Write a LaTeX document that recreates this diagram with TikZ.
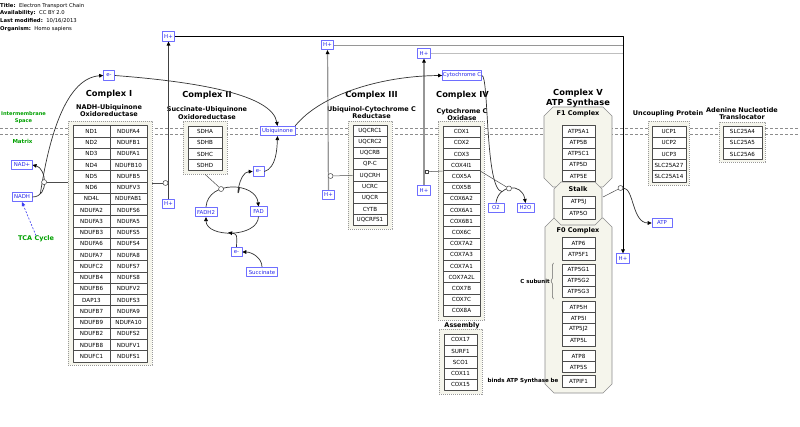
\documentclass[tikz,border=0pt]{standalone}
\usepackage{fontspec}
\setmainfont{DejaVu Sans}
\usetikzlibrary{arrows.meta,decorations.pathreplacing}
\definecolor{boxbg}{RGB}{245,245,236}
\definecolor{metblue}{RGB}{110,110,255}
\definecolor{mettext}{RGB}{40,40,235}
\definecolor{labgreen}{RGB}{0,160,0}
\definecolor{tcablue}{RGB}{60,60,240}
\definecolor{hgray}{RGB}{150,150,150}
\begin{document}
\begin{tikzpicture}[x=1pt, y=-1pt, >={Triangle[length=4pt,width=3.6pt,color=black]}, line join=round,
	cell/.style={draw=black!70, fill=white, line width=0.6pt, minimum height=11.2pt, inner sep=0pt, font=\fontsize{5.6}{6.5}\selectfont},
	grp/.style={draw=black!40, fill=boxbg, line width=0.5pt, dash pattern=on 1.2pt off 0.8pt, inner sep=0pt},
	vbox/.style={draw=black!45, fill=boxbg, line width=0.6pt},
	metab/.style={draw=metblue, fill=white, text=mettext, line width=0.6pt, inner xsep=2pt, inner ysep=0pt, minimum height=9.5pt, font=\fontsize{5.4}{6}\selectfont},
	anc/.style={circle, draw=black!75, fill=white, line width=0.5pt, inner sep=0pt, minimum size=5pt},
	ancsq/.style={rectangle, draw=black!75, fill=white, line width=0.5pt, inner sep=0pt, minimum size=3.5pt},
	conv/.style={draw=black!80, line width=0.7pt},
	cat/.style={draw=black!70, line width=0.5pt},
	hpath/.style={draw=hgray, line width=1.2pt},
	tcaarr/.style={draw=tcablue, line width=0.6pt, dash pattern=on 2pt off 1.5pt, -{Triangle[length=4pt,width=3.6pt,color=tcablue]}},
	cxtitle/.style={font=\bfseries\fontsize{8.3}{10}\selectfont, align=center, inner sep=0pt},
	cxsub/.style={font=\bfseries\fontsize{6.5}{7.3}\selectfont, align=center, inner sep=0pt},
	lbl/.style={font=\bfseries\fontsize{5.5}{6}\selectfont, inner sep=0pt},
	glbl/.style={font=\bfseries\fontsize{5.5}{6.7}\selectfont, text=labgreen, align=center, inner sep=0pt},
	hdr/.style={anchor=west, inner sep=0pt, font=\fontsize{5.3}{6}\selectfont}]
	\useasboundingbox (0,0) rectangle (800,427);
	\foreach \k/\v [count=\i] in {Title/Electron Transport Chain, Availability/CC BY 2.0, Last modified/{10/16/2013}, Organism/Homo sapiens}
		\node[hdr] (hd\i) at (0,{-1.97+7.67*\i}) {\textbf{\k:}\ \ \v};
	\foreach \y in {128,134}
		\draw[black!45, line width=0.5pt, dash pattern=on 3pt off 2pt] (0,\y) -- (800,\y);
	\node[glbl, font=\bfseries\fontsize{5.1}{6.7}\selectfont] (ims) at (23.5,117.5) {Intermembrane\\Space};
	\node[glbl] (mtx) at (22.5,141) {Matrix};
	\node[glbl, font=\bfseries\fontsize{6.5}{7}\selectfont] (tca) at (36,239) {TCA Cycle};
	\foreach \n/\cx/\cy/\w/\h in {gI/110/243/84/244, gII/205/147.5/44/53, gIII/370/175/44/108, gIV/461/220.5/46/199, gAs/460.5/361.5/43/65, gUCP/668.5/153/41/64, gANT/742/142/46/40}
		\node[grp, minimum width=\w*1pt, minimum height=\h*1pt] (\n) at (\cx,\cy) {};
	\foreach \xa/\ya/\xb/\yb/\c in {544/107/612/187/9, 545/218/612/393/9, 554/182/602/225/7}
		\draw[vbox] ({\xa},{\ya+\c}) -- ({\xa+\c},{\ya}) -- ({\xb-\c},{\ya}) -- ({\xb},{\ya+\c}) -- ({\xb},{\yb-\c}) -- ({\xb-\c},{\yb}) -- ({\xa+\c},{\yb}) -- ({\xa},{\yb-\c}) -- cycle;
	\foreach \l/\r [count=\i] in {ND1/NDUFA4, ND2/NDUFB1, ND3/NDUFA1, ND4/NDUFB10, ND5/NDUFB5, ND6/NDUFV3, ND4L/NDUFAB1, NDUFA2/NDUFS6, NDUFA3/NDUFA5, NDUFB3/NDUFS5, NDUFA6/NDUFS4, NDUFA7/NDUFA8, NDUFC2/NDUFS7, NDUFB4/NDUFS8, NDUFB6/NDUFV2, DAP13/NDUFS3, NDUFB7/NDUFA9, NDUFB9/NDUFA10, NDUFB2/NDUFS2, NDUFB8/NDUFV1, NDUFC1/NDUFS1}{
		\node[cell, minimum width=37pt, minimum height=11.25pt] (cI-a\i) at (91.5,{120.1+11.25*\i}) {\l};
		\node[cell, minimum width=37pt, minimum height=11.25pt] (cI-b\i) at (128.5,{120.1+11.25*\i}) {\r};
	}
	\foreach \n [count=\i] in {SDHA, SDHB, SDHC, SDHD}
		\node[cell, minimum width=34pt] (cII-\i) at (205,{120.4+11.2*\i}) {\n};
	\foreach \n [count=\i] in {UQCRC1, UQCRC2, UQCRB, QP-C, UQCRH, UCRC, UQCR, CYTB, UQCRFS1}
		\node[cell, minimum width=34pt] (cIII-\i) at (370,{119.4+11.2*\i}) {\n};
	\foreach \n [count=\i] in {COX1, COX2, COX3, COX4I1, COX5A, COX5B, COX6A2, COX6A1, COX6B1, COX6C, COX7A2, COX7A3, COX7A1, COX7A2L, COX7B, COX7C, COX8A}
		\node[cell, minimum width=37pt] (cIV-\i) at (461.5,{120.4+11.2*\i}) {\n};
	\foreach \n [count=\i] in {COX17, SURF1, SCO1, COX11, COX15}
		\node[cell, minimum width=33pt] (cAs-\i) at (460.5,{328.7+11.2*\i}) {\n};
	\foreach \n [count=\i] in {ATP5A1, ATP5B, ATP5C1, ATP5D, ATP5E}
		\node[cell, minimum width=33pt] (cF1-\i) at (578.5,{120.1+11.2*\i}) {\n};
	\foreach \n [count=\i] in {ATP5J, ATP5O}
		\node[cell, minimum width=33pt] (cSt-\i) at (578.5,{191.1+11.2*\i}) {\n};
	\foreach \n/\y [count=\i] in {ATP6/243.3, ATP5F1/254.4, ATP5G1/269.8, ATP5G2/280.8, ATP5G3/291.8, ATP5H/307.2, ATP5I/318.3, ATP5J2/329.4, ATP5L/340.5, ATP8/356.3, ATP5S/367, ATPIF1/381.3}
		\node[cell, minimum width=33pt] (cF0-\i) at (578.5,\y) {\n};
	\foreach \n [count=\i] in {UCP1, UCP2, UCP3, SLC25A27, SLC25A14}
		\node[cell, minimum width=34pt] (cU-\i) at (669,{120.4+11.2*\i}) {\n};
	\foreach \n [count=\i] in {SLC25A4, SLC25A5, SLC25A6}
		\node[cell, minimum width=39pt] (cA-\i) at (742.5,{120.4+11.2*\i}) {\n};
	\node[cxtitle] (tI) at (109,94.3) {Complex I};
	\node[cxtitle] (tII) at (207,95.7) {Complex II};
	\node[cxtitle] (tIII) at (371.5,95) {Complex III};
	\node[cxtitle] (tIV) at (462.5,95) {Complex IV};
	\node[cxtitle] (tV) at (578,98) {Complex V\\ATP Synthase};
	\node[cxsub] (sI) at (109,110.8) {NADH-Ubiquinone\\Oxidoreductase};
	\node[cxsub] (sII) at (207,113) {Succinate-Ubiquinone\\Oxidoreductase};
	\node[cxsub] (sIII) at (371.5,112.5) {Ubiquinol-Cytochrome C\\Reductase};
	\node[cxsub] (sIV) at (462,114.5) {Cytochrome C\\Oxidase};
	\node[cxsub] (sF1) at (578,114) {F1 Complex};
	\node[cxsub] (sSt) at (578,189) {Stalk};
	\node[cxsub] (sF0) at (578,231) {F0 Complex};
	\node[cxsub] (sAs) at (462,326) {Assembly};
	\node[cxsub] (sU) at (668,114) {Uncoupling Protein};
	\node[cxsub] (sA) at (742,113.5) {Adenine Nucleotide\\Translocator};
	\draw[black!60, line width=0.5pt, decorate, decoration={brace, amplitude=2.5pt}] (553.5,299) -- (553.5,263);
	\node[lbl, anchor=east] (csub) at (550,281) {C subunit};
	\node[lbl, anchor=west] (bnd) at (487.5,381) {binds ATP Synthase be};
	\foreach \n/\x/\y/\w/\t in {hI1/168.5/36.5/11/H+, hI2/168.5/204/11/H+, hIII1/327.5/45/11/H+, hIII2/328.5/195/11/H+, hIV1/424/53.5/11/H+, hIV2/424/190.5/11/H+, hV/623/258.5/11/H+, eI/109/75.5/11/e-, nadp/22/165/20/NAD+, nadh/22/197/20/NADH, ubq/277.5/131/11/Ubiquinone, eII1/258.5/171.5/11/e-, eII2/236.5/252/11/e-, fadh2/206/212/11/FADH2, fad/258.5/211.5/17/FAD, succ/262/272/11/Succinate, o2/496/208/16/O2, h2o/525.5/208/17/H2O, atp/662/223/20/ATP}
		\node[metab, minimum width=\w*1pt] (\n) at (\x,\y) {\t};
	\node[metab, inner xsep=0.5pt] (cytc) at (462,75.5) {Cytochrome C};
	\draw[hpath, black!75, line width=0.9pt, ->] (hI2) -- (hI1);
	\draw[hpath, ->] (hIII2) -- (hIII1);
	\draw[hpath, ->] (hIV2) -- (hIV1);
	\draw[conv, black, line width=0.8pt, ->] (hI1.east) -| (hV.north);
	\draw[hpath, line width=0.8pt] (hIII1.east) -- (hIII1.east -| hV.north);
	\draw[hpath, black!25, line width=0.8pt] (hIV1.east) -- (hIV1.east -| hV.north);
	\node[anc] (aI2) at (165.5,183) {};
	\node[anc] (aIII) at (330.5,176) {};
	\node[ancsq] (aIV) at (426.5,171.7) {};
	\node[anc] (aV) at (620.5,188) {};
	\coordinate (stR) at (603,197);
	\coordinate (nI) at (40.3,194);
	\draw[cat] (gI.east |- aI2) -- (aI2);
	\draw[cat] (cIII-5.west) -- (aIII);
	\draw[cat] (cIV-4.south west) -- (aIV);
	\draw[cat] (stR) -- (aV);
	\draw[conv, ->] (nI) .. controls (50,130) and (68,78) .. (eI.west);
	\draw[conv, ->] (nadh.east) .. controls (50,197) and (46,168) .. (nadp.east) node[anc, pos=0.5] (aI1) {};
	\draw[cat] (gI.west |- aI1) -- (aI1);
	\draw[tcaarr] (tca.north) -- (nadh.south);
	\draw[conv, ->] (eI.east) .. controls (200,82) and (272,95) .. (ubq.north);
	\draw[conv, ->] (ubq.north east) .. controls (320,95) and (380,76) .. (cytc.west);
	\draw[conv, ->] (eII1.east) .. controls (276,168) and (277,150) .. (ubq.south);
	\draw[conv, ->] (fadh2.north) .. controls (208,180) and (256,182) .. (fad.north) coordinate[pos=0.6] (tII) node[anc, pos=0.35] (aII) {};
	\draw[cat] (gII.south) -- (aII);
	\draw[conv, ->] (tII) .. controls (236,205) and (238,172) .. (eII1.west);
	\draw[conv, ->] (fad.south) .. controls (258,238) and (206,238) .. (fadh2.south) coordinate[pos=0.55] (bII);
	\draw[conv, ->] (eII2.north) .. controls (237,234) .. (bII);
	\draw[conv, ->] (succ.north) .. controls (262,258) and (252,252) .. (eII2.east);
	\draw[conv, ->] (o2.north) .. controls (498,185) and (522,182) .. (h2o.north) coordinate[pos=0.28] (oIV) node[anc, pos=0.47] (aIV2) {};
	\draw[conv] (cytc.east) .. controls (489,76) and (485,190) .. (oIV);
	\draw[cat] (cIV-4.south east) -- (aIV2);
	\draw[conv, ->] (aV) .. controls (634,188) and (632,223) .. (atp.west);
\end{tikzpicture}
\end{document}
